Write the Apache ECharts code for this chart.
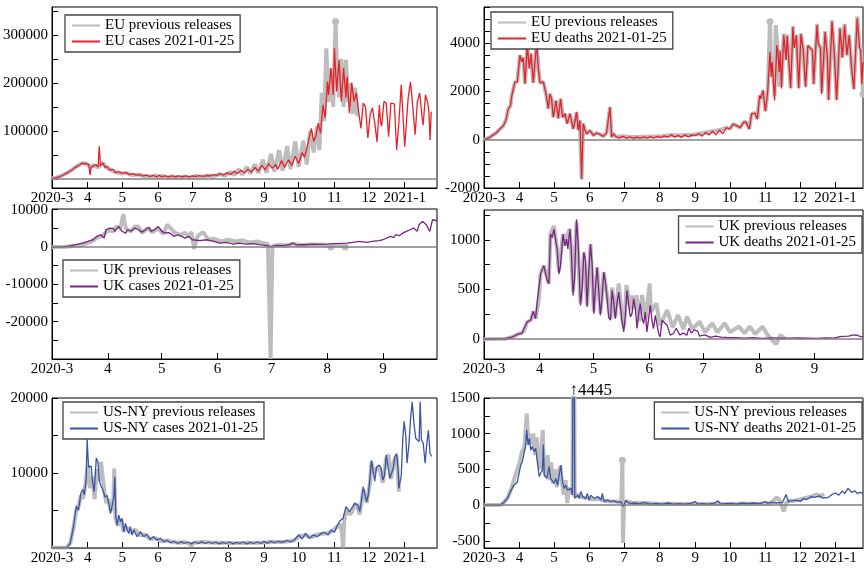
<!DOCTYPE html>
<html>
<head>
<meta charset="utf-8">
<script src="https://cdn.jsdelivr.net/npm/echarts@6/dist/echarts.min.js"></script>
<style>
  html, body { margin: 0; padding: 0; background: #fff; }
  #chart { width: 864px; height: 569px; }
</style>
</head>
<body>
<div id="chart"></div>
<script>
// x values are days since 2020-03-01
const monthStarts = [0, 31, 61, 92, 122, 153, 184, 214, 245, 275, 306]
const monthLabels = ['2020-3', '4', '5', '6', '7', '8', '9', '10', '11', '12', '2021-1']
const ukMonthStarts = [0, 31, 61, 92, 122, 153, 184]

const euCasesYLabels = [100000, 200000, 300000]
const euCasesYTicks = [0, 50000, 100000, 150000, 200000, 250000, 300000, 350000]
const euDeathsYLabels = [-2000, 0, 2000, 4000]
const euDeathsYTicks = [-2000, -1500, -1000, -500, 0, 500, 1000, 1500, 2000, 2500, 3000, 3500, 4000, 4500, 5000, 5500]
const ukCasesYLabels = [-20000, -10000, 0, 10000]
const ukCasesYTicks = [-30000, -25000, -20000, -15000, -10000, -5000, 0, 5000, 10000]
const ukDeathsYLabels = [0, 500, 1000]
const ukDeathsYTicks = [0, 250, 500, 750, 1000, 1250]
const nyCasesYLabels = [10000, 20000]
const nyCasesYTicks = [0, 5000, 10000, 15000, 20000]
const nyDeathsYLabels = [-500, 0, 500, 1000, 1500]
const nyDeathsYTicks = [-500, -250, 0, 250, 500, 750, 1000, 1250, 1500]

const euCasesPrev = [[0,1500],[4,3000],[8,6000],[12,11000],[16,17000],[20,24000],[24,30000],[27,33000],[30,31000],[33,25000],[36,28000],[40,24000],[44,34000],[47,24000],[50,20000],[55,14000],[60,11000],[65,12000],[70,8000],[75,9000],[80,6000],[85,5000],[90,7000],[92,3000],[96,6000],[100,3000],[105,5000],[110,3000],[115,5000],[120,3000],[125,6000],[130,4000],[135,7000],[140,5000],[145,10000],[150,7000],[155,14000],[158,8000],[162,20000],[165,9000],[169,25000],[172,11000],[176,30000],[179,12000],[183,40000],[186,13000],[190,52000],[193,15000],[197,60000],[200,17000],[204,68000],[207,20000],[211,78000],[214,25000],[218,80000],[221,30000],[224,100000],[227,55000],[230,110000],[232,60000],[234,180000],[236,120000],[238,272000],[240,160000],[242,230000],[244,150000],{value:[246,328000],symbol:'circle',symbolSize:7},[247,240000],[249,170000],[251,250000],[253,150000],[255,248000],[257,160000],[259,200000],[261,135000],[263,190000],[265,130000]]
const euCases = [[0,1000],[3,2000],[6,4000],[9,7000],[12,11000],[15,15000],[18,20000],[21,25000],[24,29000],[26,33000],[28,31000],[30,32000],[32,30000],[33,8000],[34,24000],[36,27000],[38,30000],[40,25000],[41,68000],[42,27000],[44,33000],[46,24000],[48,26000],[50,18000],[53,20000],[55,13000],[58,15000],[61,12000],[64,13000],[67,9000],[70,11000],[73,8000],[76,9000],[79,6000],[82,8000],[85,5000],[88,7000],[91,4000],[93,8000],[95,4000],[98,6000],[101,4000],[104,6000],[107,4000],[110,6000],[113,4000],[116,6000],[119,4000],[122,6000],[125,5000],[128,7000],[131,5000],[134,7000],[137,6000],[140,9000],[143,7000],[146,11000],[149,8000],[152,13000],[155,9000],[158,16000],[161,11000],[164,18000],[167,12000],[170,20000],[173,14000],[176,24000],[179,16000],[182,28000],[185,19000],[188,32000],[191,22000],[194,30000],[196,20000],[199,38000],[202,24000],[205,40000],[208,28000],[211,47000],[214,32000],[217,55000],[219,45000],[221,62000],[223,85000],[225,105000],[227,78000],[229,90000],[231,116000],[233,95000],[235,154000],[237,127000],[239,203000],[240,175000],[242,231000],[244,175000],[245,272000],[247,182000],[249,248000],[251,161000],[253,231000],[255,169000],[256,213000],[258,137000],[260,200000],[262,161000],[264,179000],[266,140000],[268,105000],[270,158000],[272,150000],[274,85000],[276,133000],[278,148000],[280,116000],[282,77000],[284,154000],[285,119000],[286,110000],[288,161000],[290,158000],[292,88000],[294,158000],[297,156000],[299,60000],[301,120000],[303,196000],[306,67000],[309,169000],[311,202000],[313,150000],[315,92000],[317,161000],[319,179000],[321,130000],[322,112000],[324,175000],[326,158000],[327,140000],[328,81000],[329,140000]]

const euDeathsPrev = [[0,0],[5,100],[8,200],[11,300],[14,450],[16.8,580],[19,800],[21.2,1290],[23,1400],[24.1,1800],[26,2200],[27,2390],[29,2400],[31.3,3500],[32.8,3230],[34.2,3400],[35.7,2320],[37.7,3900],[39.5,2950],[40.9,3570],[42.9,2360],[44.4,2400],[45.8,4000],[47.3,3000],[48.7,2360],[50,2400],[51.6,2400],[54,1900],[56,1290],[57.4,1900],[58.9,1690],[60.3,930],[62.7,1620],[64.7,880],[66.7,1700],[68.5,930],[70.5,1080],[72.5,670],[74.8,1080],[77.7,450],[79,700],[80.6,1150],[82.1,400],[83.5,800],[85,-1640],[86.4,670],[87.9,400],[89.3,250],[92.3,380],[95.2,180],[98,280],[101,220],[103.9,140],[106.7,280],[109.7,1350],[111.1,110],[112.6,250],[115,120],[121,140],[127,120],[133,110],[139,120],[145,130],[151,140],[157,160],[163,200],[169,180],[175,200],[181,200],[187,250],[193,300],[199,350],[205,400],[211,500],[214,445],[217,650],[220,583],[223,500],[226,722],[228,740],[231,450],[233,1070],[236,1100],[238,860],[240,1830],[241,1700],[243,2040],[245,1180],[247,2000],{value:[249,4890],symbol:'circle',symbolSize:7},[250,2900],[251,3400],[253,1800],[254,4750],[256,3600],[257,2200],[258,3700],[259,2200],[261,4400],[263,3300],[264,4350],[267,2150],[269,4700],[270,3800],[272,4350],[274,2150],[276,4400],[278,3700],[280,2200],[282,3900],[284,3800],[286,3700],[287,2300],[290,4800],[291,4000],[293,3800],[294,1950],[297,4500],[299,3400],[300,1650],[303,4950],[305,3600],[307,1650],[310,4650],[312,3400],[314,4800],[316,3500],[318,4350],[320,3000],[322,2100],[325,5100],[327,3800],[328,3900],{value:[330,1890],symbol:'circle',symbolSize:7}]
const euDeaths = [[0,0],[5,100],[8,200],[11,300],[14,450],[16.8,580],[19,800],[21.2,1290],[23,1400],[24.1,1800],[26,2200],[27,2390],[29,2400],[31.3,3500],[32.8,3230],[34.2,3400],[35.7,2320],[37.7,3900],[39.5,2950],[40.9,3570],[42.9,2360],[44.4,2400],[45.8,4000],[47.3,3000],[48.7,2360],[50,2400],[51.6,2400],[54,1900],[56,1290],[57.4,1900],[58.9,1690],[60.3,930],[62.7,1620],[64.7,880],[66.7,1700],[68.5,930],[70.5,1080],[72.5,670],[74.8,1080],[77.7,450],[79,700],[80.6,1150],[82.1,400],[83.5,800],[85,-1640],[86.4,670],[87.9,400],[89.3,250],[92.3,380],[95.2,180],[98,280],[101,220],[103.9,140],[106.7,280],[109.7,1350],[111.1,110],[112.6,250],[115,120],[118,80],[121,140],[124,70],[127,120],[130,60],[133,110],[136,70],[139,120],[142,70],[145,130],[148,80],[151,140],[154,90],[157,160],[160,100],[163,200],[166,110],[169,180],[172,100],[175,200],[178,120],[181,200],[184,180],[187,250],[190,150],[193,300],[196,200],[199,350],[202,200],[205,400],[208,250],[211,500],[214,445],[217,650],[220,583],[223,500],[226,722],[228,740],[231,450],[233,1070],[236,1100],[238,860],[240,1830],[241,1700],[243,2040],[245,1180],[247,2000],[249,3640],[250,2600],[251,3220],[253,1625],[255,3920],[256,3600],[257,2800],[258,3700],[259,2120],[261,4330],[263,3300],[264,4300],[267,2120],[269,4680],[270,3800],[272,4330],[274,2120],[276,4380],[278,3700],[280,2180],[282,3900],[284,3800],[286,3700],[287,2300],[290,4750],[291,4000],[293,3800],[294,1900],[297,4460],[299,3400],[300,1640],[303,4890],[305,3600],[307,1640],[310,4600],[312,3400],[314,4750],[316,3500],[318,4330],[320,3000],[322,2090],[325,5030],[327,3800],[328,3700],[329,2300],[330,3220]]

const ukCasesPrev = [[0,0],[8,100],[14,400],[18,800],[22,1500],[25,2500],[28,3000],[31,4500],[34,4200],[36,5500],[38,5000],[39,5500],[39.6,8800],[41,5000],[44,4200],[46,5500],[48,5500],[50,3800],[53,5000],[56,4000],[59,5000],[62,3500],[64,6000],[66,5000],[68,4000],[71,3200],[74,3800],[76,2800],[77.5,4000],[79,-500],[81,3000],[84,4000],[87,2000],[90,2200],[94,1500],[98,2000],[102,1500],[106,1800],[110,1200],[114,1500],[118,1000],[120,800],[121.5,-30000],[122.5,300],[126,600],[130,400],[134,900],[138,500],[142,700],[146,600],[150,700],[153,400],{value:[155,0],symbol:'circle',symbolSize:7},[157,500],[160,600],{value:[163,0],symbol:'circle',symbolSize:7}]
const ukCases = [[0,0],[6,50],[10,300],[14,700],[17,1070],[20,1500],[23,2000],[25,2860],[27,3300],[29,2400],[30,4640],[32,5090],[34,5000],[35,4200],[37,5540],[39,4200],[41,3750],[42,4640],[44,4300],[46,5090],[48,4640],[50,4000],[52,4640],[54,5300],[55,4200],[57,4640],[59,5540],[61,4200],[63,3750],[65,3900],[66,3480],[68,2860],[70,3300],[72,2860],[74,2410],[76,2860],[78,1960],[82,1700],[86,1960],[90,1520],[93,1070],[97,1250],[101,800],[104,1070],[108,800],[112,900],[115,625],[119,450],[122,90],[125,450],[128,360],[132,625],[134,1100],[136,500],[138,625],[142,625],[145,800],[149,700],[153,800],[156,900],[160,980],[164,1070],[167,1250],[171,1520],[175,1250],[178,1520],[182,1700],[184,1960],[188,2860],[190,2590],[191,3300],[193,3040],[195,3750],[197,4200],[199,4640],[201,5090],[203,4200],[204,5980],[206,6880],[208,5980],[210,4200],[211.5,7320],[214,7050]]

const ukDeathsPrev = [[0,0],[12,5],[16,23],[18.5,47],[22,73],[24,173],[26,190],[27.4,280],[28.7,207],[30.5,390],[31.5,657],[33.3,740],[34.3,757],[36.1,557],[37,1057],[38.9,1140],[39.8,1160],[40.7,907],[41.7,680],[44,1057],[45,940],[46,1040],[47.8,1107],[49.6,480],[51.5,1180],[53.7,360],[55.6,873],[57.4,340],[59.3,957],[61.1,280],[63,723],[64.8,260],[66.7,673],[68.5,440],[70.4,200],[71.3,520],[73.1,220],[75,560],[76.9,200],[78,120],[79.3,543],[81.5,300],[82.4,440],[83.3,300],[85,443],[86.5,180],[88,443],[90,200],[92.2,560],[93,276],[96,360],[98,137],[102,293],[105,120],[108,243],[111,100],[113,227],[116,100],[120,177],[123,70],[127,160],[130,70],[134,160],[137,70],[142,127],[145,60],[148,127],[151,50],[155,127],[158,40],[162.6,-50],[165,40],[168,3]]
const ukDeaths = [[0,0],[12,5],[13,13],[16,23],[18.5,47],[21,57],[22,73],[24,173],[26,190],[27.4,280],[28.7,207],[29.6,373],[30.5,390],[31.5,657],[32.4,657],[33.3,740],[34.3,757],[35.2,590],[36.1,557],[37,1057],[38,1023],[38.9,1107],[39.8,1123],[40.7,907],[41.7,657],[42.6,740],[44,1057],[45,940],[46,1007],[46.7,907],[47.8,1107],[48.5,940],[49.6,440],[50.4,607],[51.5,1207],[52.4,973],[53.7,340],[54.6,507],[55.6,873],[56.5,790],[57.4,323],[58.3,673],[59.3,957],[60.2,757],[61.1,257],[62,507],[63,723],[63.9,707],[64.8,240],[65.7,407],[66.7,673],[67.6,573],[68.5,423],[69.4,223],[70.4,190],[71.3,490],[72.2,373],[73.1,207],[74,357],[75,473],[75.9,340],[76.9,173],[77.8,73],[78.7,240],[79.6,490],[80.6,340],[81.5,223],[82.4,257],[83.3,407],[84.3,307],[85.2,107],[86.1,257],[87,357],[88,207],[88.9,157],[89.8,273],[90.7,73],[91.7,57],[92.6,340],[93.5,190],[94.4,107],[95.4,240],[96.3,223],[97.2,57],[98.1,23],[99.1,190],[100,173],[102,140],[103.7,40],[105.5,57],[107,110],[108,93],[109,43],[111,60],[113,40],[114,110],[115.5,60],[117,93],[119,80],[120,30],[121,20],[123,43],[126,17],[129,30],[132,20],[135,17],[140,15],[145,10],[150,15],[155,8],[160,12],[165,10],[170,10],[175,12],[180,10],[185,8],[190,12],[195,10],[198,25],[200,27],[203,30],[205,40],[207,43],[209,30],[211,20]]

const nyCasesPrev = [[0,50],[13,80],[16,700],[19,3000],[21,5000],[23,5500],[25,7000],[27,6600],[29,8500],[31,11000],[33,8000],[35,9500],[37,6500],[39,10500],[41,9000],[42.5,11500],[44,11300],[45.5,7500],[47,6000],[49,6500],[51,5000],[53,5500],[54,10600],[55,4000],[57,3000],[60,3800],[62,2200],[65,2800],[68,2000],[72,2500],[76,1700],[80,1800],[85,1200],[90,1300],[95,900],[100,1000],[105,800],[110,700],[115,800],[120,500],[121,100],[122,700],[130,800],[140,700],[150,700],[160,650],[170,700],[180,700],[190,800],[200,800],[210,1000],[215,1600],[220,1700],[225,1400],[230,1800],[235,1900],[240,2000],[245,2500],[250,3200],[251.5,2000],[252.5,-100],[253.5,3500],[255,5000],[258,4500],[260,4700],[262,5600],[264,5900],[267,4500],[270,7800],[273,6000],[276,8800],[277,11500],[279,10000],[282,10600],[284,10800],[287,8700],[290,12000],[292,12400],[294,9200],[297,11800],[299,12300],[301,7500]]
const nyCases = [[0,50],[13,80],[15.7,600],[18.6,2800],[21,5600],[23,5000],[25,7300],[26.7,7800],[28,7100],[29.6,9000],[30.5,14500],[31.7,10800],[33,10600],[34,10900],[35,9000],[36.6,7500],[38.4,12000],[39.8,11500],[41,9000],[42.7,8200],[44,7800],[46,6800],[47.8,7000],[49.3,5900],[50.7,4600],[52,5500],[53.6,6800],[54.5,9500],[55.4,4200],[56.5,3060],[57.9,4400],[59.4,3500],[60.8,3950],[62.3,2180],[63.7,3300],[65.2,2400],[66.6,1960],[68,2840],[69.5,1730],[71,2400],[73.8,1500],[76.7,2180],[79.6,1500],[82.4,1860],[85,1150],[88,1500],[91,1070],[94,1290],[97,850],[100,1000],[103,700],[106,900],[109,600],[112,850],[115,600],[118,800],[121,550],[124,800],[127,600],[130,850],[133,600],[136,800],[139,600],[142,800],[145,550],[148,750],[151,600],[154,800],[157,550],[160,750],[163,600],[166,800],[169,550],[172,750],[175,600],[178,800],[181,600],[184,850],[187,650],[190,900],[193,700],[196,900],[199,750],[201,840],[204,1000],[207,800],[210,1070],[214,1730],[217,1200],[220,1950],[223,1300],[227,1750],[230,1500],[233.6,1950],[236,2100],[239.5,1730],[242,2400],[245,2100],[247,2840],[249.6,3600],[251,3500],[252.5,3950],[254,4840],[255,5500],[256.5,5200],[258,4840],[259.5,5100],[261,5500],[262.5,5950],[264,6170],[265.5,5700],[267,4840],[268.5,6400],[270,8170],[271.5,7100],[273,6200],[274.4,7100],[275.8,9280],[277.2,11700],[278.6,10170],[280,8900],[281.5,10800],[283,11050],[284,11050],[285.6,10600],[287,9050],[288.5,9700],[290,12400],[291.4,12600],[293,9300],[294.5,9500],[296,10600],[297.5,12200],[299,12600],[300.4,10170],[301,7950],[303,9700],[304.3,14600],[305.5,16900],[307,14800],[308,11300],[309.6,13700],[311,17100],[312.5,19500],[314,16600],[315.6,14600],[317,14800],[318.5,14200],[319.4,19500],[320.5,14400],[322,14000],[323.7,11300],[325,13700],[326.5,15700],[328,12600],[329.5,12200]]

const nyDeathsPrev = [[0,0],[15,5],[18,50],[21,110],[24,250],[27,400],[29,500],[31,600],[33,750],[35,800],[36.5,1100],[37.2,1280],[38.5,900],[40,1000],[41.5,850],[43,1000],[44.5,700],[46,950],[47.5,600],[49,500],[50.5,900],[51.2,1050],[52,500],[54,400],[55.5,700],[57,350],[58.5,600],[60,300],[62,500],[63.5,250],[65,450],[66.5,550],[68,300],[69.5,150],[71,350],[72.5,30],[74,250],[76,150],[77,200],[78,4445],[79,110],[81,150],[84,120],[88,100],[92,90],[96,80],[100,90],[105,60],[110,50],[115,50],[119.5,40],{value:[120.5,630],symbol:'circle',symbolSize:7},[121,-530],[122,40],[125,50],[130,30],[140,30],[150,20],[160,20],[170,15],[180,20],[190,15],[200,20],[210,15],[220,20],[230,20],[240,20],[250,30],[255,110],[258,60],[261,-90],[263,30],[266,60],[270,60],[275,80],[280,100],[285,120],[290,150],[293,120],[296,160]]
const nyDeaths = [[0,0],[14.5,5],[17.4,40],[20.3,95],[23,190],[26,280],[29,320],[30.5,445],[32,560],[33.4,610],[35,630],[36.3,840],[37.2,1050],[38.4,840],[39.5,935],[40.7,770],[42,820],[43.6,750],[45,795],[46.5,610],[48,400],[49.4,450],[50.9,490],[51.7,850],[52.5,420],[54.7,375],[56.7,540],[58,375],[59.6,400],[61,305],[62.5,375],[64,280],[65.4,305],[66.9,560],[68.3,330],[69.8,235],[71.2,280],[72.7,210],[74,190],[75.6,235],[77,140],[78,4445],[79,95],[81.4,140],[82.8,95],[84.3,190],[85.8,120],[87.2,140],[88.7,95],[90,165],[91.6,70],[93,140],[96,95],[99,120],[102,70],[103,165],[104.6,50],[107.6,70],[110.5,50],[113,60],[116,40],[119,50],[121.5,-20],[123.5,70],[125,40],[128,25],[131,30],[135,20],[140,35],[145,15],[150,25],[155,15],[160,30],[165,15],[170,20],[175,15],[180,25],[184,50],[186,15],[190,20],[195,15],[200,25],[204,60],[206,15],[210,20],[215,25],[220,15],[225,30],[230,20],[235,30],[240,20],[245,50],[247,25],[250,40],[255,30],[260,40],[263,150],[265,50],[268,60],[272,70],[275.6,50],[278,90],[281,80],[285,120],[288,110],[292,130],[295,100],[300,110],[303,150],[306,170],[309,140],[312,200],[314,160],[317,235],[320,180],[323,200],[325,160],[327,180],[330,170]]

const FONT = 'Liberation Serif'
const GREY = '#bdbdbd'
const RED = '#e8202a'
const PURPLE = '#7b2383'
const BLUE = '#3a55a8'

const chart = echarts.init(document.getElementById('chart'))

function grid(left, top, width, height) {
  return { left, top, width, height, show: true, borderColor: '#000', borderWidth: 1, backgroundColor: '#fff', outerBoundsMode: 'none' }
}

function xAxis(gridIndex, max, ticks) {
  return {
    type: 'value', gridIndex, min: 0, max,
    axisLine: { show: true, onZero: false, lineStyle: { color: '#000', width: 1 } },
    axisTick: { show: true, inside: true, length: 6, customValues: ticks, lineStyle: { color: '#000' } },
    axisLabel: {
      customValues: ticks, color: '#000', fontFamily: FONT, fontSize: 15, margin: 3,
      formatter: v => monthLabels[monthStarts.indexOf(v)]
    },
    splitLine: { show: false }
  }
}

function yAxis(gridIndex, min, max, labels, ticks) {
  return {
    type: 'value', gridIndex, min, max,
    axisLine: { show: true, onZero: false, lineStyle: { color: '#000', width: 1 } },
    axisTick: { show: true, inside: true, length: 6, customValues: ticks, lineStyle: { color: '#000' } },
    axisLabel: { customValues: labels, color: '#000', fontFamily: FONT, fontSize: 15, margin: 4, formatter: v => String(v) },
    splitLine: { show: false }
  }
}

function prevSeries(name, idx, data) {
  return {
    name, type: 'line', xAxisIndex: idx, yAxisIndex: idx, data,
    symbol: 'none', showSymbol: true, itemStyle: { color: GREY },
    lineStyle: { color: GREY, width: 4 }, z: 2,
    markLine: {
      silent: true, symbol: 'none', label: { show: false },
      lineStyle: { color: '#808080', width: 1.5, type: 'solid' },
      data: [{ yAxis: 0 }]
    }
  }
}

function currSeries(name, idx, data, color) {
  return {
    name, type: 'line', xAxisIndex: idx, yAxisIndex: idx, data,
    symbol: 'none', itemStyle: { color }, lineStyle: { color, width: 1.3 }, z: 3
  }
}

function legend(names, pos) {
  return Object.assign({
    orient: 'vertical', data: names, borderColor: '#444', borderWidth: 1.3,
    padding: [3, 6, 3, 6], itemGap: 1, itemWidth: 28, itemHeight: 14,
    backgroundColor: '#fff',
    itemStyle: { opacity: 0 },
    textStyle: { fontFamily: FONT, fontSize: 15, color: '#000' }
  }, pos)
}

const nySeries = currSeries('US-NY deaths 2021-01-25', 5, nyDeaths, BLUE)
nySeries.markPoint = {
  symbol: 'circle', symbolSize: 0, silent: true,
  data: [{ coord: [79, 1500] }],
  label: { show: true, position: 'top', distance: 0, offset: [16, 1], formatter: '\u21914445', color: '#000', fontFamily: FONT, fontSize: 17 }
}

chart.setOption({
  animation: false,
  backgroundColor: '#fff',
  grid: [
    grid(52, 7, 385, 181),
    grid(484, 7, 379, 181),
    grid(52, 209, 385, 150),
    grid(484, 210, 379, 149),
    grid(52, 398, 385, 150),
    grid(484, 398, 379, 150)
  ],
  xAxis: [
    xAxis(0, 334, monthStarts),
    xAxis(1, 330, monthStarts),
    xAxis(2, 214, ukMonthStarts),
    xAxis(3, 211, ukMonthStarts),
    xAxis(4, 334, monthStarts),
    xAxis(5, 330, monthStarts)
  ],
  yAxis: [
    yAxis(0, -19000, 358000, euCasesYLabels, euCasesYTicks),
    yAxis(1, -2000, 5500, euDeathsYLabels, euDeathsYTicks),
    yAxis(2, -30000, 10200, ukCasesYLabels, ukCasesYTicks),
    yAxis(3, -200, 1300, ukDeathsYLabels, ukDeathsYTicks),
    yAxis(4, 0, 20000, nyCasesYLabels, nyCasesYTicks),
    yAxis(5, -600, 1500, nyDeathsYLabels, nyDeathsYTicks)
  ],
  legend: [
    legend(['EU previous releases', 'EU cases 2021-01-25'], { left: 65, top: 15 }),
    legend(['EU previous releases', 'EU deaths 2021-01-25'], { left: 491, top: 12 }),
    legend(['UK previous releases', 'UK cases 2021-01-25'], { left: 63, top: 260 }),
    legend(['UK previous releases', 'UK deaths 2021-01-25'], { right: 2, top: 216 }),
    legend(['US-NY previous releases', 'US-NY cases 2021-01-25'], { left: 63, top: 402 }),
    legend(['US-NY previous releases', 'US-NY deaths 2021-01-25'], { right: 2, top: 402 })
  ],
  series: [
    prevSeries('EU previous releases', 0, euCasesPrev),
    currSeries('EU cases 2021-01-25', 0, euCases, RED),
    prevSeries('EU previous releases', 1, euDeathsPrev),
    currSeries('EU deaths 2021-01-25', 1, euDeaths, RED),
    prevSeries('UK previous releases', 2, ukCasesPrev),
    currSeries('UK cases 2021-01-25', 2, ukCases, PURPLE),
    prevSeries('UK previous releases', 3, ukDeathsPrev),
    currSeries('UK deaths 2021-01-25', 3, ukDeaths, PURPLE),
    prevSeries('US-NY previous releases', 4, nyCasesPrev),
    currSeries('US-NY cases 2021-01-25', 4, nyCases, BLUE),
    prevSeries('US-NY previous releases', 5, nyDeathsPrev),
    nySeries
  ]
})
</script>
</body>
</html>
